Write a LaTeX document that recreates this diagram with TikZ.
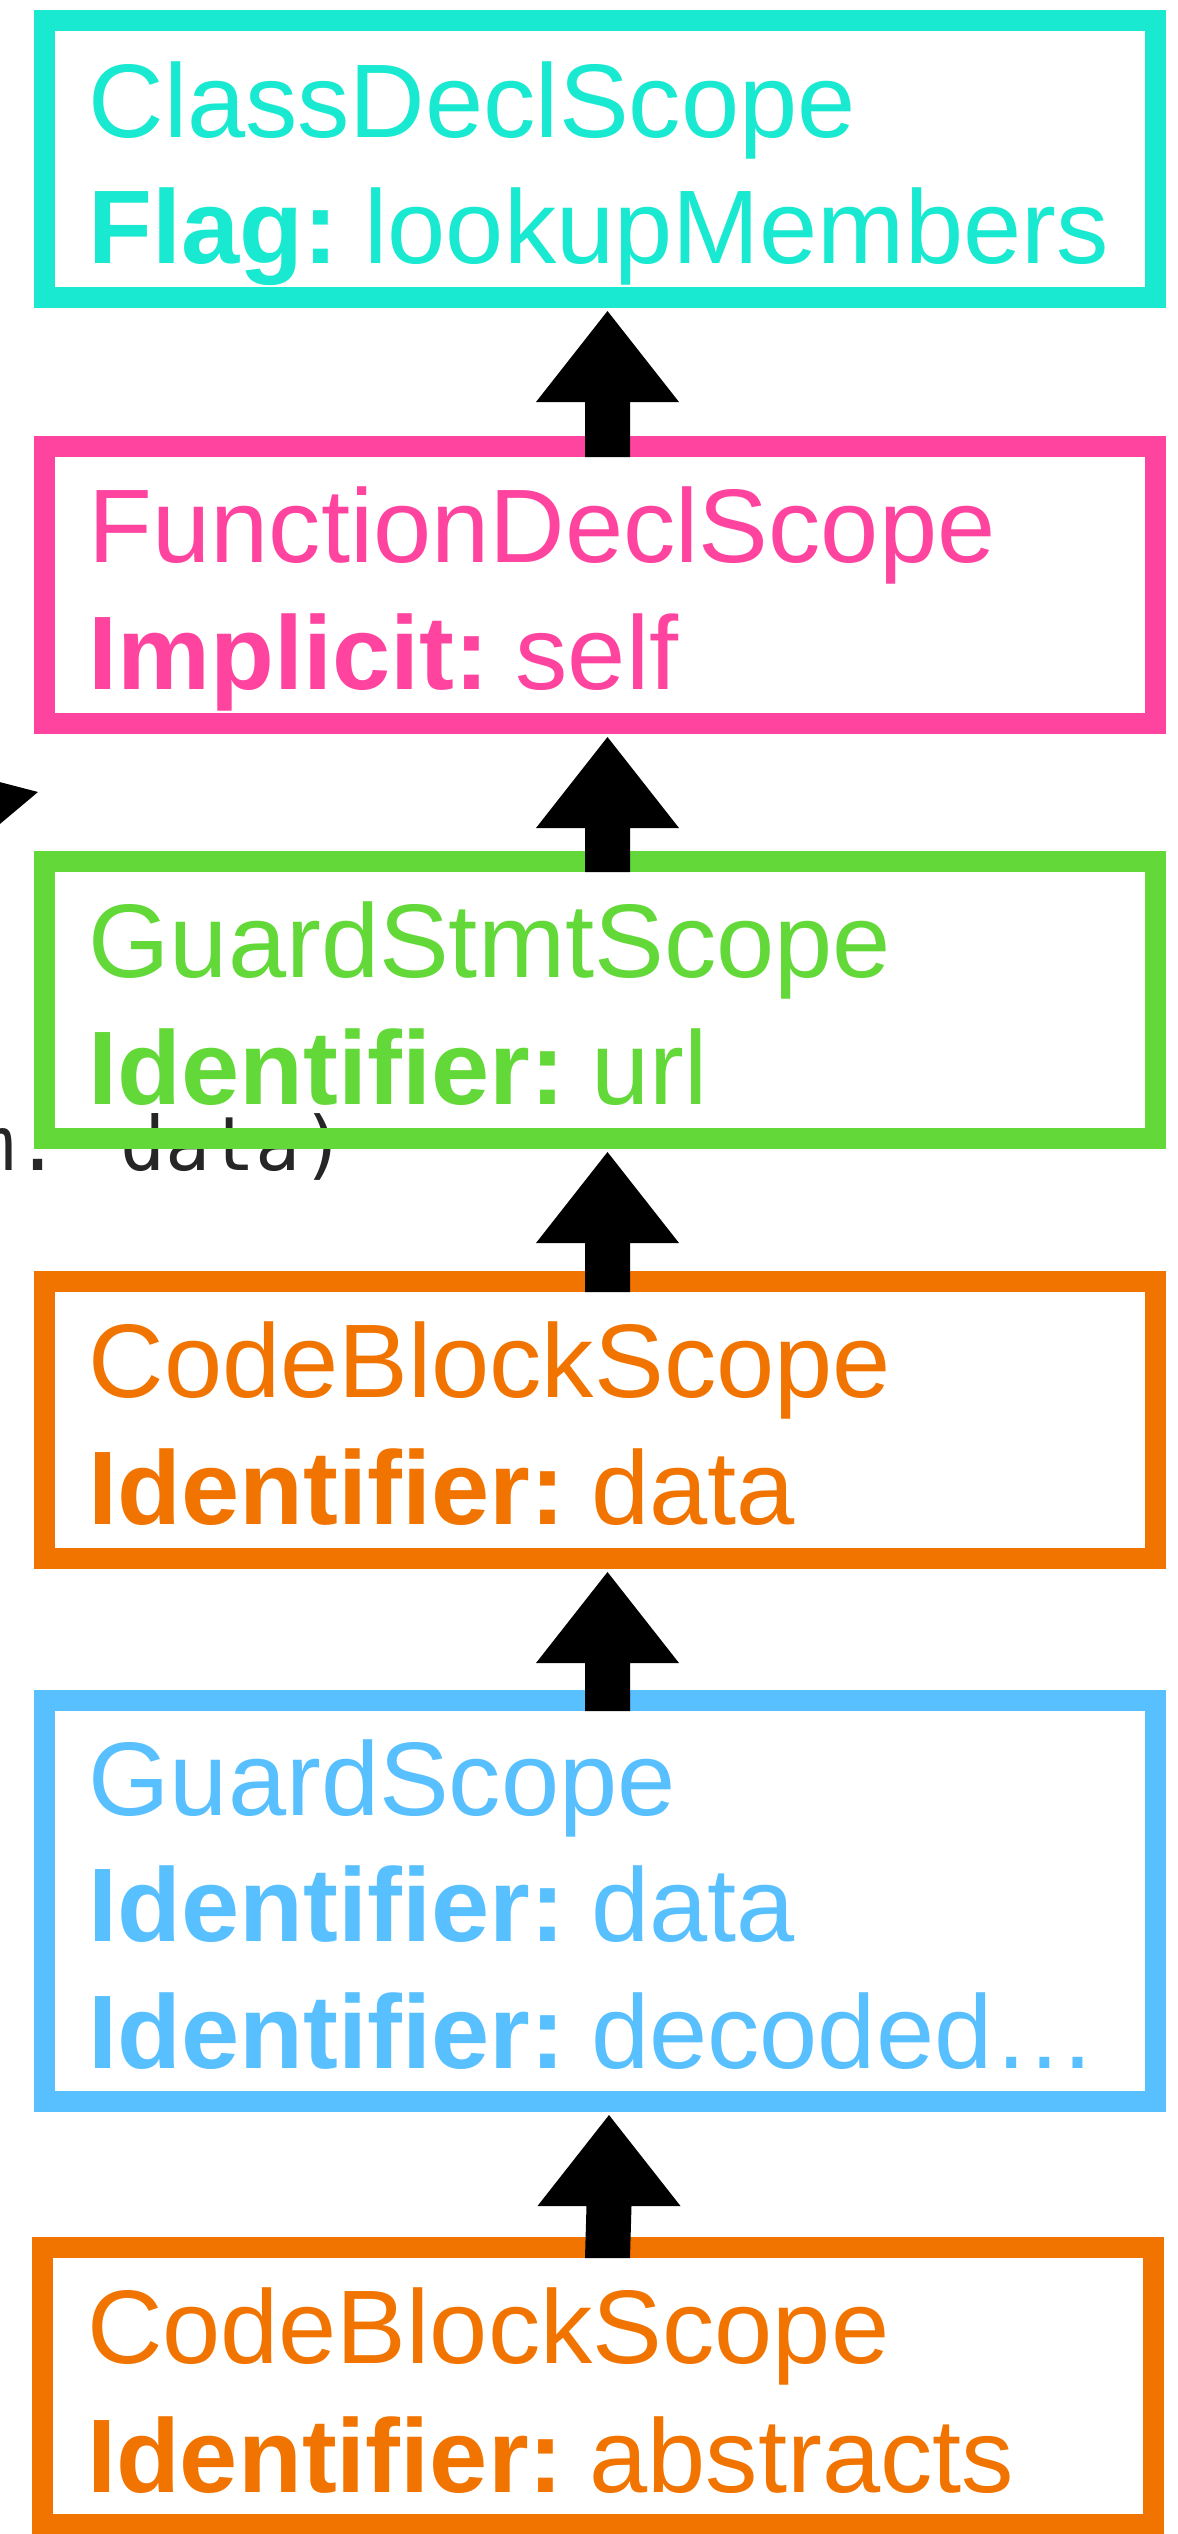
\documentclass[tikz,border=0pt]{standalone}
\usepackage{fontspec}
\setmainfont{Liberation Sans}
\newfontfamily\monof{DejaVu Sans Mono}
\usetikzlibrary{calc}
\definecolor{cteal}{RGB}{24,233,208}
\definecolor{cpink}{RGB}{255,68,160}
\definecolor{cgreen}{RGB}{98,217,56}
\definecolor{corange}{RGB}{242,116,0}
\definecolor{cblue}{RGB}{88,192,255}
\definecolor{cmono}{RGB}{38,38,38}
\newcommand\kvline[2]{\textbf{#1}\hspace{0.25em}#2}
\begin{document}
\begin{tikzpicture}[x=0.5pt,y=-0.5pt,
  scopebox/.style={draw=#1, line width=10.5pt, inner sep=0pt, minimum width=555.5pt, minimum height=138.5pt},
  txt/.style={anchor=base west, inner sep=0pt, outer sep=0pt, text=#1, font=\fontsize{52.3pt}{60pt}\selectfont},
  monotxt/.style={anchor=base west, inner sep=0pt, outer sep=0pt, text=cmono, font=\monof\fontsize{37.5pt}{45pt}\selectfont}]
\useasboundingbox (0,0) rectangle (1178,2534);
\clip (0,0) rectangle (1178,2534);
\fill[white] (0,0) rectangle (1178,2534);

% background code fragments on the left
\node[monotxt] (code) at (-30,1170) {m. data)};
\fill (38,792) -- (-12,779) -- (-12,834) -- cycle;

% boxes
\node[scopebox=cteal] (b1) at (599.5,159) {};
\node[scopebox=cpink] (b2) at (599.5,585) {};
\node[scopebox=cgreen] (b3) at (599.5,1000) {};
\node[scopebox=corange] (b4) at (599.5,1420) {};
\node[scopebox=cblue, minimum height=200.5pt] (b5) at (599.5,1901) {};
\node[scopebox=corange] (b6) at (598,2386) {};

% texts
\node[txt=cteal] (l1a) at ($(b1.north west)+(55,127)$) {ClassDeclScope};
\node[txt=cteal] (l1b) at ($(b1.north west)+(55,253)$) {\kvline{Flag:}{lookupMembers}};
\node[txt=cpink] (l2a) at ($(b2.north west)+(55,126)$) {FunctionDeclScope};
\node[txt=cpink] (l2b) at ($(b2.north west)+(55,253)$) {\kvline{Implicit:}{self}};
\node[txt=cgreen] (l3a) at ($(b3.north west)+(55,126)$) {GuardStmtScope};
\node[txt=cgreen] (l3b) at ($(b3.north west)+(55,253)$) {\kvline{Identifier:}{url}};
\node[txt=corange] (l4a) at ($(b4.north west)+(55,126)$) {CodeBlockScope};
\node[txt=corange] (l4b) at ($(b4.north west)+(55,253)$) {\kvline{Identifier:}{data}};
\node[txt=cblue] (l5a) at ($(b5.north west)+(55,125)$) {GuardScope};
\node[txt=cblue] (l5b) at ($(b5.north west)+(55,251)$) {\kvline{Identifier:}{data}};
\node[txt=cblue] (l5c) at ($(b5.north west)+(55,378)$) {\kvline{Identifier:}{decoded…}};
\node[txt=corange] (l6a) at ($(b6.north west)+(55,126)$) {CodeBlockScope};
\node[txt=corange] (l6b) at ($(b6.north west)+(55,255)$) {\kvline{Identifier:}{abstracts}};

% block arrows (lower box -> upper box)
\foreach \up/\lo/\dx in {b1/b2/8, b2/b3/8, b3/b4/8, b4/b5/8, b5/b6/9.5}{
  \coordinate (t) at ($(\up.south)+(\dx,3)$);
  \coordinate (s) at ($(\lo.north)+(\dx,21)$);
  \fill (t) -- ($(t)+(71.5,91)$) -- ($(t)+(22.5,91)$) -- ($(s)+(22.5,0)$)
        -- ($(s)+(-22.5,0)$) -- ($(t)+(-22.5,91)$) -- ($(t)+(-71.5,91)$) -- cycle;
}
\end{tikzpicture}
\end{document}
